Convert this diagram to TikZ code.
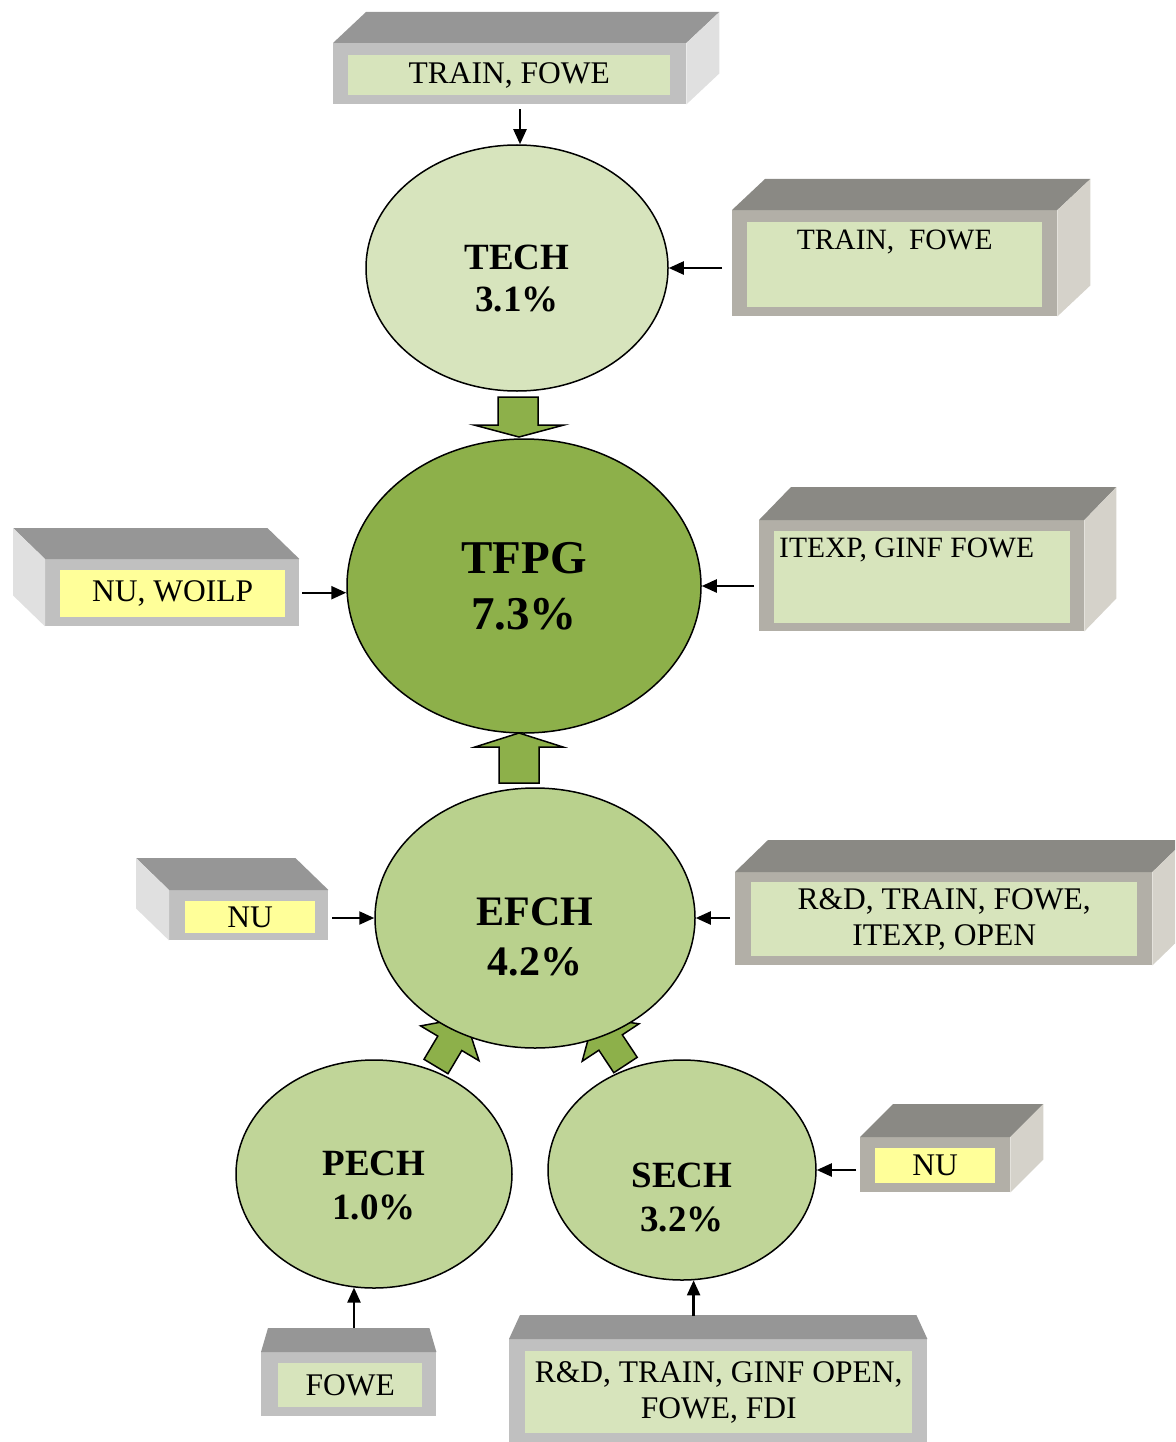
\documentclass[tikz,border=0pt]{standalone}
\usepackage{fontspec}
\setmainfont{Liberation Serif}
\usetikzlibrary{shapes.geometric,arrows.meta,positioning}

\definecolor{panelgreen}{HTML}{D7E4BC}
\definecolor{panelyellow}{HTML}{FFFF99}
\definecolor{grayfront}{HTML}{C0C0C0}
\definecolor{graytop}{HTML}{969696}
\definecolor{grayside}{HTML}{E0E0E0}
\definecolor{warmfront}{HTML}{B2AFA7}
\definecolor{warmtop}{HTML}{8A8984}
\definecolor{warmside}{HTML}{D5D2CA}
\definecolor{techfill}{HTML}{D7E4BD}
\definecolor{tfpgfill}{HTML}{8DB04A}
\definecolor{efchfill}{HTML}{B9D18D}
\definecolor{lowfill}{HTML}{C0D598}
\definecolor{fatgreen}{HTML}{8DB04A}

% top and side faces of a box, depth to the right / left / straight up
\newcommand{\faceright}[4]{%
  \fill[#4top] (#1.north west) -- ++(#2,#3) -- ([shift={(#2,#3)}]#1.north east) -- (#1.north east) -- cycle;
  \fill[#4side] (#1.north east) -- ++(#2,#3) -- ([shift={(#2,#3)}]#1.south east) -- (#1.south east) -- cycle;}
\newcommand{\faceleft}[4]{%
  \fill[#4top] (#1.north east) -- ++(#2,#3) -- ([shift={(#2,#3)}]#1.north west) -- (#1.north west) -- cycle;
  \fill[#4side] (#1.north west) -- ++(#2,#3) -- ([shift={(#2,#3)}]#1.south west) -- (#1.south west) -- cycle;}
\newcommand{\facetop}[4]{%
  \fill[#4top] (#1.north west) -- ++(#2,-#3) -- ([shift={(-#2,-#3)}]#1.north east) -- (#1.north east) -- cycle;}

\begin{document}
\begin{tikzpicture}[x=1pt, y=-1pt, line join=round,
	ell/.style={ellipse, draw, line width=1.5pt, inner sep=0pt},
	etxt/.style={align=center, inner sep=0pt},
	front/.style={anchor=north west, inner sep=0pt},
	panel/.style={anchor=north west, inner sep=0pt, align=center, font=\fontsize{31.5}{36}\selectfont},
	btxt/.style={inner sep=0pt, font=\fontsize{29.5}{34}\selectfont},
	link/.style={-{Triangle[length=15pt,width=13pt]}, line width=2.3pt},
	fat/.style={fill=fatgreen, draw, line width=1.5pt, line join=miter}]
	\clip (0,0) rectangle (1175,1442);
	% block arrows
	\draw[fat] (498,397) -- (538,397) -- (538,425) -- (564,425) -- (519,437) -- (474,425) -- (498,425) -- cycle;
	\draw[fat] (519,733) -- (563,747) -- (539,747) -- (539,783) -- (499,783) -- (499,747) -- (475,747) -- cycle;
	\draw[fat] (424,1059.3) -- (437.8,1036.1) -- (420.6,1025.9) -- (465.1,1017.6) -- (479,1060.7) -- (461.8,1050.5) -- (448,1073.7) -- cycle;
	\draw[fat] (613.8,1072.7) -- (598.9,1050.2) -- (582.2,1061.2) -- (594.1,1017.4) -- (639,1023.8) -- (622.3,1034.8) -- (637.2,1057.3) -- cycle;
	% ellipses
	\node[ell, fill=techfill, minimum width=302, minimum height=246] (tech) at (517,268) {};
	\node[ell, fill=tfpgfill, minimum width=354, minimum height=294] (tfpg) at (524,586) {};
	\node[ell, fill=efchfill, minimum width=320, minimum height=260] (efch) at (535,918) {};
	\node[ell, fill=lowfill, minimum width=276, minimum height=228] (pech) at (374,1174) {};
	\node[ell, fill=lowfill, minimum width=268, minimum height=220] (sech) at (682,1170) {};
	\node[etxt, font=\bfseries\fontsize{37}{42}\selectfont] (techtxt) at ([yshift=-11pt]tech.center) {TECH\\3.1\%};
	\node[etxt, font=\bfseries\fontsize{47}{56}\selectfont] (tfpgtxt) at (tfpg.center) {TFPG\\7.3\%};
	\node[etxt, font=\bfseries\fontsize{42}{50}\selectfont] (efchtxt) at ([yshift=-19pt]efch.center) {EFCH\\4.2\%};
	\node[etxt, font=\bfseries\fontsize{37}{44}\selectfont] (pechtxt) at ([yshift=-11pt]pech.center) {PECH\\1.0\%};
	\node[etxt, font=\bfseries\fontsize{37}{44}\selectfont] (sechtxt) at ([yshift=-27pt]sech.center) {SECH\\3.2\%};
	% boxes
	\node[front, fill=grayfront, minimum width=353, minimum height=61] (b1) at (333,43) {};
	\faceright{b1}{33}{-31}{gray}
	\node[panel, fill=panelgreen, minimum width=322, minimum height=40] (p1) at (348,55) {TRAIN, FOWE};
	\node[front, fill=warmfront, minimum width=325, minimum height=106] (b2) at (732,210) {};
	\faceright{b2}{33}{-31}{warm}
	\node[front, fill=panelgreen, minimum width=295, minimum height=85] (p2) at (747,222) {};
	\node[btxt, below=8pt of p2.north] (t2) {TRAIN,~~FOWE};
	\node[front, fill=grayfront, minimum width=254, minimum height=67] (b3) at (45,559) {};
	\faceleft{b3}{-32}{-31}{gray}
	\node[panel, fill=panelyellow, minimum width=225, minimum height=47] (p3) at (60,570) {NU, WOILP};
	\node[front, fill=warmfront, minimum width=325, minimum height=111] (b4) at (759,520) {};
	\faceright{b4}{32}{-33}{warm}
	\node[front, fill=panelgreen, minimum width=296, minimum height=92] (p4) at (774,531) {};
	\node[btxt, below right=7pt and 5pt of p4.north west] (t4) {ITEXP, GINF FOWE};
	\node[front, fill=grayfront, minimum width=159, minimum height=50] (b5) at (169,890) {};
	\faceleft{b5}{-33}{-32}{gray}
	\node[panel, fill=panelyellow, minimum width=130, minimum height=32] (p5) at (185,901) {NU};
	\node[front, fill=warmfront, minimum width=417, minimum height=93] (b6) at (735,872) {};
	\faceright{b6}{33}{-32}{warm}
	\node[panel, fill=panelgreen, minimum width=386, minimum height=74] (p6) at (751,882) {R\&D, TRAIN, FOWE,\\ITEXP, OPEN};
	\node[front, fill=warmfront, minimum width=150, minimum height=55] (b7) at (860,1137) {};
	\faceright{b7}{33}{-33}{warm}
	\node[panel, fill=panelyellow, minimum width=120, minimum height=35] (p7) at (875,1148) {NU};
	\node[front, fill=grayfront, minimum width=175, minimum height=64] (b8) at (261,1352) {};
	\facetop{b8}{7}{24}{gray}
	\node[panel, fill=panelgreen, minimum width=144, minimum height=44] (p8) at (278,1363) {FOWE};
	\node[front, fill=grayfront, minimum width=418, minimum height=110] (b9) at (509,1339) {};
	\facetop{b9}{11}{24}{gray}
	\node[panel, fill=panelgreen, minimum width=387, minimum height=82] (p9) at (525,1351) {R\&D, TRAIN, GINF OPEN,\\FOWE, FDI};
	% links
	\draw[link] (b1.south -| tech.north) ++(3,5) -- ([xshift=3pt]tech.north);
	\draw[link] (b2.west |- tech.east) ++(-10,0) -- (tech.east);
	\draw[link] (b3.east) ++(3,0) -- (b3.east -| tfpg.west);
	\draw[link] (b4.west |- tfpg.east) ++(-5,0) -- (tfpg.east);
	\draw[link] (b5.east |- efch.west) ++(4,0) -- (efch.west);
	\draw[link] (b6.west |- efch.east) ++(-5,0) -- (efch.east);
	\draw[link] (b7.west |- sech.east) ++(-4,0) -- (sech.east);
	\draw[link] (pech.260 |- b8.north) ++(0,-24) -- (pech.260);
	\draw[link] (sech.276 |- b9.north) ++(0,-23) -- (sech.276);
\end{tikzpicture}
\end{document}
